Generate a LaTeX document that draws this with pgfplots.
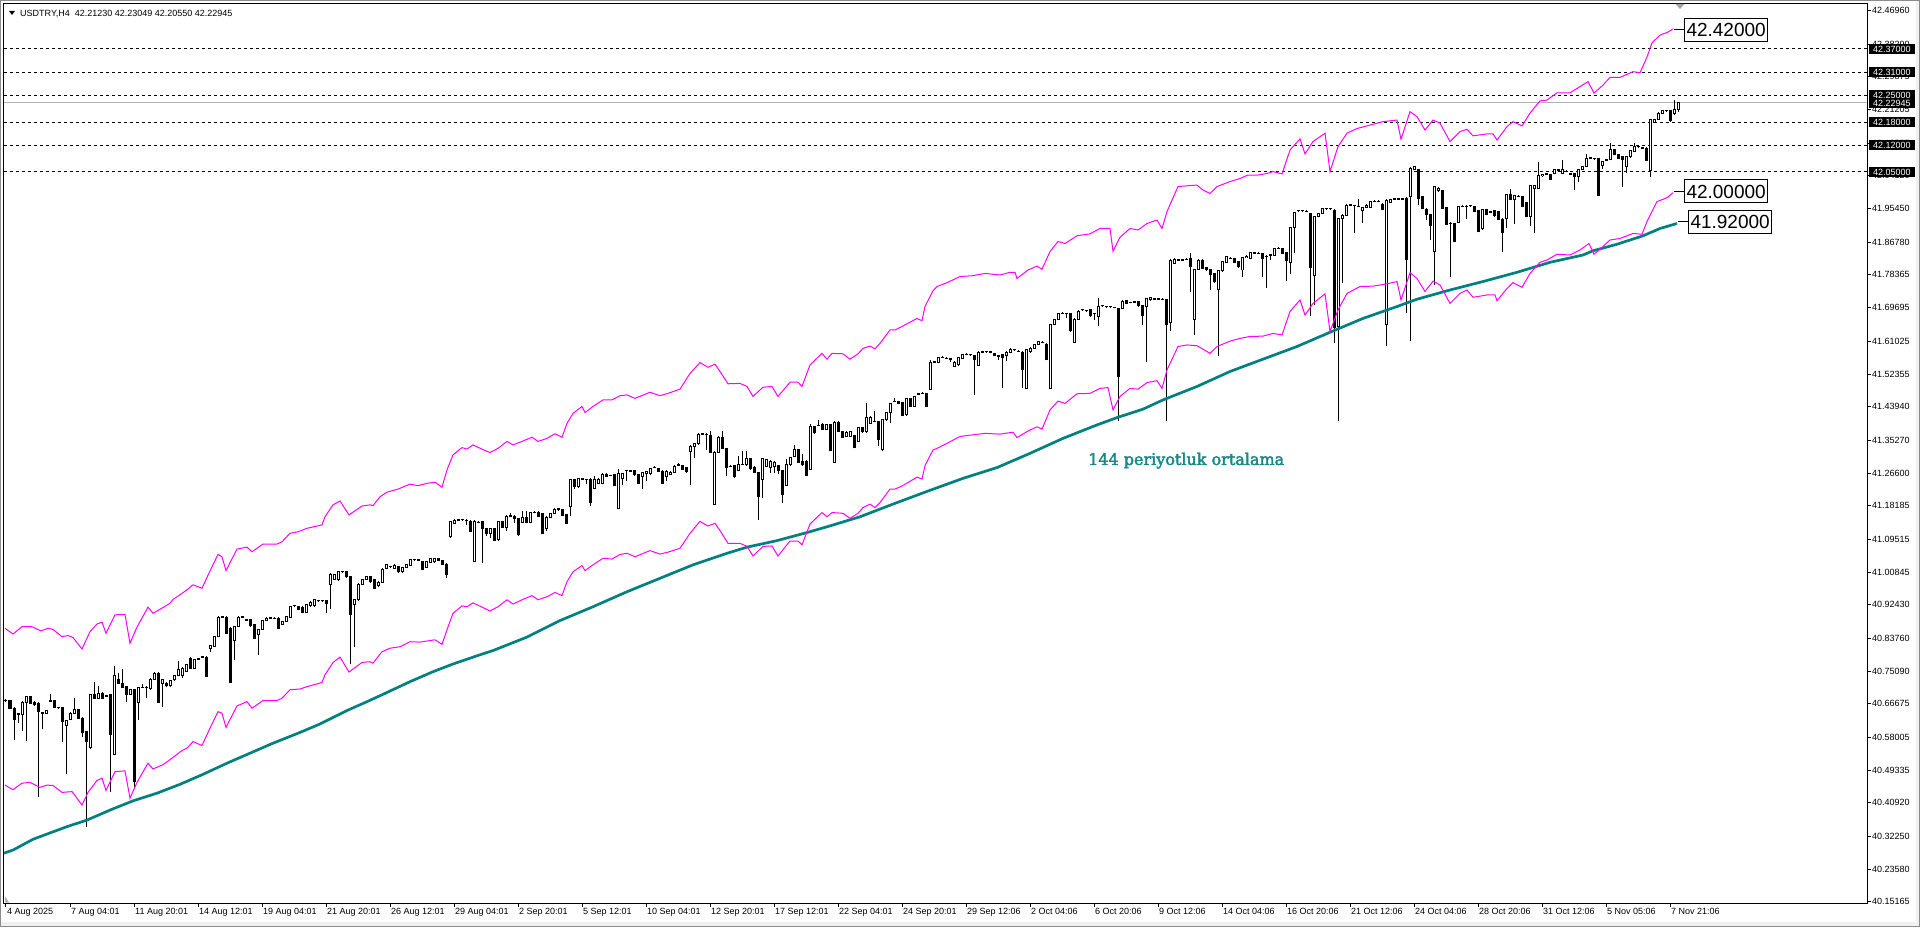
\documentclass[border=0pt]{standalone}
\usepackage{fontspec}
\setmainfont{Liberation Sans}
\newfontfamily\slabfont[FakeBold=2.5]{DejaVu Serif}
\usepackage{pgfplots}
\usepackage{pgfplotstable}
\pgfplotsset{compat=1.18}
\definecolor{mtteal}{RGB}{0,128,128}
\definecolor{mtmag}{RGB}{255,0,255}
\definecolor{lblteal}{RGB}{24,136,136}

\pgfplotstableread{
o h l c
40.676 40.678 40.671 40.674
40.674 40.676 40.652 40.655
40.655 40.657 40.573 40.626
40.639 40.642 40.616 40.640
40.639 40.673 40.596 40.671
40.671 40.688 40.570 40.685
40.685 40.687 40.666 40.668
40.671 40.673 40.661 40.664
40.668 40.670 40.423 40.646
40.643 40.645 40.600 40.642
40.642 40.650 40.640 40.648
40.673 40.692 40.671 40.675
40.674 40.676 40.655 40.658
40.657 40.659 40.653 40.656
40.657 40.659 40.567 40.620
40.610 40.624 40.483 40.622
40.626 40.644 40.624 40.642
40.642 40.681 40.640 40.651
40.651 40.653 40.627 40.629
40.629 40.631 40.581 40.592
40.594 40.596 40.345 40.568
40.553 40.692 40.550 40.690
40.690 40.724 40.679 40.681
40.681 40.713 40.679 40.694
40.694 40.696 40.679 40.681
40.686 40.689 40.684 40.687
40.690 40.692 40.438 40.587
40.535 40.765 40.532 40.739
40.729 40.746 40.718 40.720
40.720 40.756 40.708 40.710
40.711 40.713 40.672 40.691
40.691 40.705 40.689 40.703
40.703 40.705 40.451 40.464
40.671 40.711 40.625 40.709
40.709 40.717 40.707 40.710
40.710 40.712 40.681 40.709
40.705 40.733 40.703 40.731
40.731 40.748 40.729 40.746
40.746 40.748 40.669 40.671
40.720 40.731 40.658 40.729
40.720 40.722 40.711 40.713
40.713 40.728 40.711 40.726
40.729 40.742 40.727 40.740
40.740 40.778 40.738 40.757
40.741 40.761 40.734 40.759
40.750 40.771 40.748 40.769
40.785 40.787 40.757 40.759
40.759 40.784 40.757 40.782
40.783 40.786 40.781 40.784
40.788 40.792 40.786 40.789
40.788 40.790 40.735 40.737
40.811 40.819 40.800 40.817
40.815 40.843 40.813 40.841
40.841 40.894 40.839 40.892
40.892 40.895 40.890 40.893
40.892 40.894 40.848 40.850
40.863 40.865 40.721 40.723
40.830 40.869 40.781 40.867
40.867 40.894 40.865 40.892
40.892 40.896 40.890 40.893
40.886 40.888 40.881 40.883
40.885 40.887 40.867 40.869
40.872 40.874 40.835 40.837
40.846 40.862 40.794 40.860
40.860 40.885 40.858 40.883
40.883 40.891 40.881 40.889
40.889 40.892 40.887 40.890
40.889 40.891 40.886 40.888
40.889 40.891 40.861 40.863
40.874 40.882 40.872 40.880
40.880 40.895 40.878 40.893
40.892 40.922 40.890 40.920
40.921 40.924 40.919 40.922
40.920 40.922 40.911 40.913
40.918 40.920 40.903 40.905
40.905 40.926 40.903 40.924
40.921 40.933 40.919 40.931
40.921 40.939 40.919 40.937
40.934 40.937 40.932 40.935
40.935 40.937 40.932 40.934
40.934 40.936 40.902 40.928
40.978 41.006 40.913 41.004
40.990 41.005 40.988 41.003
40.989 41.012 40.987 41.010
41.010 41.013 41.008 41.011
41.010 41.012 40.995 40.997
40.997 40.999 40.769 40.899
40.924 40.939 40.814 40.937
40.937 40.980 40.935 40.978
40.978 40.992 40.976 40.990
40.990 40.999 40.988 40.997
40.997 40.999 40.982 40.984
40.989 40.991 40.965 40.967
40.973 40.985 40.971 40.983
40.983 41.019 40.981 41.017
41.019 41.030 41.017 41.028
41.023 41.026 41.021 41.024
41.018 41.029 41.016 41.027
41.023 41.025 41.008 41.010
41.010 41.023 41.008 41.021
41.021 41.030 41.019 41.028
41.027 41.043 41.025 41.041
41.041 41.044 41.039 41.042
41.041 41.043 41.038 41.040
41.036 41.038 41.014 41.016
41.022 41.038 41.020 41.036
41.034 41.047 41.032 41.045
41.036 41.047 41.034 41.045
41.045 41.047 41.037 41.039
41.039 41.041 41.028 41.030
41.030 41.032 40.995 41.004
41.101 41.142 41.099 41.140
41.136 41.146 41.134 41.144
41.144 41.147 41.142 41.145
41.145 41.148 41.143 41.146
41.144 41.146 41.132 41.143
41.142 41.144 41.113 41.115
41.037 41.144 41.035 41.142
41.138 41.141 41.136 41.139
41.140 41.142 41.034 41.123
41.123 41.125 41.102 41.110
41.110 41.125 41.097 41.123
41.123 41.125 41.089 41.091
41.093 41.143 41.089 41.141
41.141 41.143 41.123 41.125
41.125 41.157 41.115 41.155
41.155 41.162 41.153 41.156
41.155 41.157 41.136 41.148
41.148 41.150 41.104 41.106
41.138 41.167 41.136 41.152
41.152 41.167 41.136 41.138
41.138 41.166 41.136 41.164
41.164 41.167 41.162 41.165
41.164 41.168 41.153 41.155
41.162 41.164 41.108 41.110
41.123 41.154 41.115 41.152
41.152 41.164 41.150 41.162
41.162 41.175 41.160 41.173
41.174 41.176 41.169 41.171
41.171 41.173 41.154 41.156
41.158 41.160 41.134 41.136
41.180 41.251 41.155 41.249
41.249 41.251 41.225 41.232
41.232 41.255 41.227 41.253
41.251 41.254 41.249 41.252
41.250 41.252 41.239 41.249
41.251 41.253 41.180 41.190
41.227 41.259 41.225 41.251
41.239 41.253 41.237 41.251
41.239 41.266 41.237 41.264
41.264 41.266 41.256 41.258
41.260 41.263 41.258 41.261
41.262 41.264 41.232 41.234
41.174 41.277 41.172 41.266
41.253 41.268 41.236 41.266
41.273 41.276 41.247 41.274
41.273 41.275 41.270 41.272
41.273 41.275 41.260 41.262
41.262 41.264 41.238 41.240
41.258 41.270 41.225 41.268
41.265 41.273 41.247 41.271
41.265 41.281 41.263 41.279
41.281 41.285 41.279 41.282
41.279 41.281 41.269 41.271
41.272 41.274 41.238 41.240
41.258 41.274 41.247 41.272
41.264 41.271 41.262 41.269
41.269 41.287 41.267 41.285
41.287 41.292 41.285 41.288
41.287 41.289 41.275 41.277
41.281 41.283 41.266 41.271
41.324 41.339 41.236 41.337
41.337 41.345 41.305 41.343
41.343 41.370 41.341 41.368
41.368 41.371 41.366 41.369
41.368 41.370 41.327 41.367
41.364 41.375 41.319 41.321
41.186 41.323 41.184 41.321
41.321 41.362 41.319 41.360
41.360 41.377 41.329 41.331
41.331 41.333 41.260 41.282
41.284 41.287 41.282 41.285
41.286 41.288 41.253 41.258
41.273 41.310 41.271 41.290
41.290 41.323 41.287 41.289
41.288 41.325 41.286 41.305
41.305 41.307 41.276 41.278
41.282 41.284 41.266 41.268
41.268 41.270 41.145 41.206
41.249 41.307 41.201 41.305
41.284 41.303 41.282 41.301
41.282 41.300 41.266 41.298
41.285 41.297 41.268 41.295
41.287 41.289 41.264 41.273
41.273 41.275 41.190 41.212
41.234 41.303 41.232 41.288
41.288 41.309 41.286 41.307
41.310 41.340 41.308 41.327
41.327 41.329 41.293 41.295
41.298 41.316 41.286 41.288
41.298 41.300 41.258 41.260
41.277 41.394 41.275 41.388
41.388 41.390 41.369 41.371
41.390 41.406 41.388 41.391
41.394 41.396 41.379 41.381
41.381 41.394 41.379 41.392
41.392 41.394 41.323 41.325
41.295 41.401 41.293 41.399
41.399 41.401 41.373 41.375
41.375 41.377 41.358 41.360
41.362 41.375 41.360 41.373
41.362 41.377 41.360 41.375
41.364 41.366 41.331 41.333
41.349 41.387 41.347 41.385
41.385 41.387 41.372 41.374
41.374 41.448 41.372 41.412
41.396 41.414 41.394 41.412
41.401 41.427 41.399 41.402
41.401 41.403 41.337 41.355
41.327 41.407 41.325 41.405
41.405 41.426 41.403 41.424
41.424 41.450 41.396 41.448
41.453 41.461 41.451 41.454
41.453 41.455 41.446 41.448
41.450 41.452 41.414 41.416
41.418 41.463 41.416 41.461
41.461 41.463 41.438 41.440
41.441 41.468 41.439 41.466
41.472 41.475 41.470 41.473
41.474 41.477 41.472 41.475
41.474 41.476 41.438 41.440
41.485 41.561 41.483 41.555
41.555 41.558 41.553 41.556
41.555 41.569 41.553 41.567
41.567 41.570 41.565 41.568
41.566 41.568 41.563 41.565
41.564 41.566 41.556 41.563
41.545 41.557 41.543 41.555
41.548 41.569 41.546 41.567
41.565 41.576 41.563 41.574
41.575 41.578 41.573 41.576
41.575 41.577 41.572 41.574
41.572 41.574 41.471 41.561
41.546 41.583 41.544 41.581
41.581 41.584 41.579 41.582
41.582 41.585 41.580 41.583
41.582 41.584 41.579 41.581
41.578 41.580 41.570 41.572
41.572 41.574 41.562 41.571
41.574 41.576 41.487 41.568
41.572 41.583 41.559 41.581
41.581 41.591 41.579 41.589
41.587 41.590 41.585 41.588
41.584 41.586 41.581 41.583
41.581 41.583 41.487 41.535
41.487 41.590 41.485 41.588
41.582 41.594 41.580 41.592
41.591 41.603 41.589 41.601
41.601 41.610 41.599 41.608
41.606 41.609 41.604 41.607
41.602 41.604 41.560 41.562
41.487 41.655 41.485 41.653
41.653 41.668 41.651 41.666
41.666 41.684 41.664 41.682
41.682 41.685 41.680 41.683
41.682 41.684 41.669 41.681
41.682 41.684 41.635 41.637
41.607 41.669 41.605 41.667
41.667 41.690 41.665 41.688
41.691 41.694 41.689 41.692
41.690 41.692 41.687 41.689
41.691 41.693 41.674 41.676
41.682 41.684 41.666 41.681
41.675 41.721 41.649 41.699
41.702 41.705 41.700 41.703
41.700 41.702 41.697 41.699
41.699 41.702 41.697 41.700
41.698 41.700 41.695 41.697
41.695 41.697 41.402 41.517
41.695 41.716 41.693 41.714
41.715 41.717 41.706 41.708
41.711 41.713 41.708 41.710
41.711 41.714 41.709 41.712
41.712 41.714 41.700 41.702
41.702 41.704 41.653 41.676
41.699 41.723 41.556 41.721
41.717 41.726 41.715 41.724
41.719 41.722 41.717 41.720
41.720 41.722 41.717 41.719
41.719 41.721 41.716 41.718
41.717 41.719 41.402 41.652
41.659 41.823 41.637 41.821
41.812 41.825 41.810 41.823
41.821 41.824 41.819 41.822
41.822 41.824 41.819 41.821
41.822 41.826 41.820 41.823
41.825 41.838 41.738 41.803
41.665 41.798 41.627 41.796
41.796 41.823 41.794 41.821
41.821 41.823 41.797 41.799
41.801 41.803 41.793 41.795
41.796 41.798 41.744 41.782
41.786 41.788 41.762 41.764
41.744 41.795 41.572 41.793
41.793 41.818 41.791 41.816
41.814 41.832 41.812 41.830
41.825 41.828 41.823 41.826
41.825 41.827 41.812 41.814
41.816 41.818 41.801 41.803
41.795 41.829 41.776 41.827
41.827 41.833 41.825 41.831
41.825 41.843 41.823 41.841
41.841 41.843 41.836 41.838
41.838 41.841 41.836 41.839
41.838 41.840 41.777 41.825
41.830 41.833 41.747 41.831
41.834 41.837 41.821 41.835
41.834 41.853 41.832 41.851
41.851 41.854 41.849 41.852
41.850 41.852 41.836 41.838
41.840 41.842 41.767 41.819
41.814 41.908 41.784 41.906
41.906 41.947 41.840 41.945
41.949 41.952 41.947 41.950
41.950 41.952 41.947 41.949
41.948 41.950 41.945 41.947
41.942 41.944 41.676 41.801
41.780 41.936 41.705 41.934
41.934 41.944 41.932 41.942
41.942 41.956 41.940 41.954
41.954 41.957 41.952 41.955
41.955 41.957 41.952 41.954
41.951 41.953 41.604 41.646
41.647 41.930 41.402 41.928
41.928 41.940 41.760 41.938
41.938 41.966 41.936 41.964
41.964 41.967 41.962 41.965
41.963 41.965 41.892 41.962
41.961 41.979 41.958 41.960
41.949 41.960 41.918 41.958
41.958 41.966 41.956 41.964
41.958 41.975 41.956 41.973
41.973 41.976 41.971 41.974
41.974 41.976 41.971 41.973
41.966 41.968 41.951 41.953
41.653 41.979 41.598 41.977
41.970 41.981 41.968 41.979
41.979 41.982 41.977 41.980
41.980 41.982 41.977 41.979
41.979 41.982 41.977 41.980
41.982 41.984 41.683 41.823
41.985 42.062 41.609 42.060
42.056 42.065 42.054 42.063
42.056 42.058 41.965 41.982
41.985 41.987 41.954 41.956
41.953 41.955 41.924 41.939
41.939 41.941 41.874 41.910
41.843 42.014 41.755 42.012
42.001 42.010 41.999 42.008
42.001 42.003 41.954 41.956
41.958 41.960 41.912 41.914
41.917 41.919 41.778 41.916
41.915 41.917 41.867 41.869
41.919 41.962 41.917 41.960
41.960 41.963 41.958 41.961
41.961 41.963 41.927 41.960
41.962 41.965 41.960 41.963
41.960 41.962 41.945 41.947
41.950 41.952 41.893 41.895
41.902 41.954 41.900 41.952
41.952 41.954 41.937 41.939
41.945 41.948 41.943 41.946
41.949 41.951 41.934 41.936
41.947 41.949 41.924 41.926
41.927 41.929 41.841 41.893
41.930 41.994 41.904 41.992
41.992 42.005 41.976 41.978
41.978 41.991 41.914 41.989
41.986 41.989 41.984 41.987
41.986 41.988 41.958 41.960
41.971 41.973 41.932 41.934
41.934 42.016 41.910 42.014
42.008 42.016 41.891 42.014
42.008 42.077 42.006 42.040
42.040 42.046 42.038 42.044
42.044 42.047 42.042 42.045
42.044 42.046 42.029 42.031
42.047 42.059 42.045 42.057
42.056 42.058 42.053 42.055
42.047 42.082 42.045 42.056
42.051 42.054 42.049 42.052
42.045 42.047 42.042 42.044
42.045 42.047 42.004 42.037
42.037 42.058 42.025 42.056
42.057 42.066 42.055 42.064
42.064 42.096 42.062 42.086
42.086 42.089 42.084 42.087
42.085 42.087 42.082 42.084
42.084 42.086 41.987 41.989
42.066 42.079 42.058 42.077
42.081 42.084 42.079 42.082
42.082 42.125 42.080 42.109
42.108 42.110 42.093 42.095
42.095 42.097 42.084 42.086
42.089 42.091 42.011 42.082
42.063 42.091 42.047 42.089
42.089 42.108 42.087 42.106
42.103 42.125 42.101 42.115
42.115 42.118 42.113 42.116
42.113 42.115 42.110 42.112
42.112 42.114 42.078 42.080
42.054 42.188 42.038 42.186
42.180 42.189 42.178 42.187
42.187 42.205 42.185 42.203
42.203 42.211 42.201 42.209
42.209 42.212 42.207 42.210
42.209 42.211 42.181 42.183
42.201 42.236 42.199 42.213
42.2123 42.23049 42.2055 42.22945
}\candles

\begin{document}
\begin{tikzpicture}
\path[use as bounding box] (0,0) rectangle (1920pt,927pt);
\fill[white] (0,0) rectangle (1920pt,927pt);
\fill[black!6] (0,0) rectangle (1920pt,5pt);
\fill[black!6] (1916pt,0) rectangle (1920pt,927pt);
\draw[black!45, line width=1pt] (0.5pt,0.5pt) rectangle (1919.5pt,926.5pt);
\begin{axis}[
  at={(4pt,24pt)}, anchor=south west,
  width=1863pt, height=899pt, scale only axis,
  xmin=4, xmax=1867, ymin=40.14828, ymax=42.4870,
  axis line style={line width=1pt},
  tick align=outside, major tick length=4pt,
  every tick/.style={black, line width=1pt},
  xtick pos=bottom, ytick pos=right, yticklabel pos=right,
  xtick={6,70,134,198,262,326,390,454,518,582,646,710,774,838,902,966,1030,1094,1158,1222,1286,1350,1414,1478,1542,1606,1670},
  xticklabels={4 Aug 2025,7 Aug 04:01,11 Aug 20:01,14 Aug 12:01,19 Aug 04:01,21 Aug 20:01,26 Aug 12:01,29 Aug 04:01,2 Sep 20:01,5 Sep 12:01,10 Sep 04:01,12 Sep 20:01,17 Sep 12:01,22 Sep 04:01,24 Sep 20:01,29 Sep 12:06,2 Oct 04:06,6 Oct 20:06,9 Oct 12:06,14 Oct 04:06,16 Oct 20:06,21 Oct 12:06,24 Oct 04:06,28 Oct 20:06,31 Oct 12:06,5 Nov 05:06,7 Nov 21:06},
  ytick={40.15165,40.23580,40.32250,40.40920,40.49335,40.58005,40.66675,40.75090,40.83760,40.92430,41.00845,41.09515,41.18185,41.26600,41.35270,41.43940,41.52355,41.61025,41.69695,41.78365,41.86780,41.95450,42.04120,42.12535,42.21205,42.29875,42.38290,42.46960},
  yticklabels={40.15165,40.23580,40.32250,40.40920,40.49335,40.58005,40.66675,40.75090,40.83760,40.92430,41.00845,41.09515,41.18185,41.26600,41.35270,41.43940,41.52355,41.61025,41.69695,41.78365,41.86780,41.95450,42.04120,42.12535,42.21205,42.29875,42.38290,42.46960},
  ticklabel style={font=\fontsize{9}{10}\selectfont, text=black},
  xticklabel style={anchor=north west, inner sep=0pt, xshift=1pt, yshift=-1pt},
  yticklabel style={anchor=west, inner sep=0pt, xshift=1pt},
  clip=true,
]
% horizontal level lines
\addplot[black!30, line width=1pt] coordinates {(4,42.22945) (1867,42.22945)};
\addplot[black, line width=1pt, dash pattern=on 3pt off 3pt] coordinates {(4,42.37) (1867,42.37)};
\addplot[black, line width=1pt, dash pattern=on 3pt off 3pt] coordinates {(4,42.31) (1867,42.31)};
\addplot[black, line width=1pt, dash pattern=on 3pt off 3pt] coordinates {(4,42.25) (1867,42.25)};
\addplot[black, line width=1pt, dash pattern=on 3pt off 3pt] coordinates {(4,42.18) (1867,42.18)};
\addplot[black, line width=1pt, dash pattern=on 3pt off 3pt] coordinates {(4,42.12) (1867,42.12)};
\addplot[black, line width=1pt, dash pattern=on 3pt off 3pt] coordinates {(4,42.05) (1867,42.05)};

% candles: wicks
\addplot[black, line width=1pt, quiver={u=0, v=\thisrow{h}-\thisrow{l}}]
  table[x expr=6+4*\coordindex, y=l] {\candles};
% bodies (black outline / fill)
\addplot[black, line width=3pt, quiver={u=0, v=abs(\thisrow{c}-\thisrow{o})+0.0026}]
  table[x expr=6+4*\coordindex, y expr={min(\thisrow{o},\thisrow{c})-0.0013}] {\candles};
% white interior of rising candles
\addplot[white, line width=1pt, quiver={u=0, v=\thisrow{c}-\thisrow{o}-0.0026},
  x filter/.expression={(\thisrow{c}-\thisrow{o}>0.003) ? x : nan}, unbounded coords=discard]
  table[x expr=6+4*\coordindex, y expr=\thisrow{o}+0.0013] {\candles};

% 144-period moving average
\addplot[mtteal, line width=2.7pt] coordinates {
(4,40.278) (13,40.286) (33,40.314) (67,40.347) (87,40.364) (110,40.390) (133,40.414) (157,40.434) (180,40.457) (203,40.483) (227,40.512) (250,40.538) (273,40.564) (300,40.592) (320,40.614) (347,40.649) (367,40.672) (387,40.696) (410,40.724) (433,40.750) (453,40.770) (480,40.794) (493,40.805) (527,40.840) (560,40.883) (593,40.919) (627,40.958) (660,40.993) (693,41.028) (727,41.058) (747,41.074) (777,41.091) (807,41.112) (827,41.127) (860,41.153) (893,41.186) (927,41.219) (963,41.253) (997,41.281) (1030,41.318) (1063,41.357) (1097,41.392) (1117,41.411) (1143,41.433) (1163,41.457) (1197,41.492) (1230,41.531) (1263,41.563) (1297,41.596) (1330,41.633) (1363,41.669) (1397,41.700) (1417,41.719) (1450,41.743) (1483,41.765) (1517,41.789) (1550,41.815) (1583,41.834) (1593,41.845) (1617,41.862) (1643,41.884) (1660,41.903) (1677,41.916)};

% upper envelope
\addplot[mtmag, line width=1pt] coordinates {
(5,40.863) (13,40.848) (22,40.867) (32,40.867) (41,40.856) (48,40.863) (53,40.860) (62,40.841) (68,40.844) (73,40.839) (82,40.809) (90,40.854) (97,40.874) (102,40.879) (106,40.850) (115,40.898) (125,40.899) (130,40.824) (137,40.866) (148,40.918) (153,40.902) (163,40.917) (170,40.928) (173,40.938) (180,40.950) (187,40.963) (193,40.976) (202,40.967) (210,41.012) (218,41.055) (222,41.049) (226,41.013) (237,41.069) (247,41.074) (252,41.062) (263,41.082) (277,41.082) (282,41.088) (290,41.110) (298,41.114) (307,41.123) (317,41.129) (322,41.132) (325,41.153) (333,41.184) (340,41.194) (349,41.158) (362,41.181) (370,41.184) (373,41.182) (380,41.205) (387,41.217) (398,41.225) (410,41.238) (418,41.234) (427,41.240) (435,41.243) (442,41.230) (447,41.275) (453,41.314) (462,41.333) (467,41.329) (473,41.340)
(482,41.329) (490,41.320) (498,41.331) (507,41.349) (513,41.340) (522,41.349) (532,41.360) (538,41.349) (547,41.357) (555,41.369) (562,41.360) (567,41.396) (573,41.422) (582,41.440) (585,41.424) (593,41.440) (603,41.457) (612,41.457) (620,41.468) (627,41.470) (635,41.461) (650,41.477) (660,41.468) (668,41.474) (680,41.485) (690,41.526) (700,41.554) (708,41.542) (715,41.550) (720,41.531) (728,41.499) (740,41.500) (747,41.492) (753,41.466) (763,41.490) (772,41.492) (778,41.466) (790,41.503) (798,41.503) (802,41.492) (810,41.548) (822,41.578) (827,41.563) (832,41.578) (843,41.577) (850,41.563) (858,41.577) (863,41.591) (870,41.597) (875,41.590) (880,41.604) (890,41.639) (895,41.639) (902,41.648) (917,41.669) (922,41.663) (925,41.700) (933,41.741)
(937,41.752) (947,41.762) (960,41.778) (972,41.780) (985,41.786) (1000,41.782) (1010,41.789) (1015,41.789) (1017,41.773) (1028,41.795) (1037,41.805) (1042,41.797) (1050,41.843) (1058,41.869) (1065,41.864) (1077,41.884) (1090,41.889) (1100,41.903) (1110,41.903) (1113,41.844) (1120,41.880) (1130,41.903) (1138,41.899) (1147,41.916) (1157,41.925) (1162,41.903) (1167,41.947) (1178,42.012) (1187,42.014) (1197,42.016) (1203,42.003) (1210,41.994) (1217,42.012) (1230,42.025) (1240,42.033) (1248,42.042) (1258,42.042) (1267,42.046) (1273,42.051) (1282,42.045) (1290,42.107) (1300,42.136) (1305,42.097) (1313,42.129) (1325,42.151) (1330,42.051) (1338,42.116) (1347,42.151) (1357,42.163) (1370,42.172) (1383,42.181) (1397,42.185) (1401,42.135)
(1410,42.207) (1417,42.194) (1425,42.159) (1433,42.185) (1440,42.177) (1450,42.129) (1460,42.155) (1467,42.161) (1473,42.144) (1487,42.149) (1493,42.149) (1497,42.133) (1507,42.168) (1513,42.181) (1522,42.170) (1530,42.203) (1540,42.235) (1547,42.237) (1557,42.256) (1570,42.256) (1580,42.272) (1588,42.285) (1594,42.255) (1603,42.276) (1610,42.296) (1620,42.296) (1633,42.311) (1640,42.308) (1647,42.349) (1652,42.386) (1660,42.406) (1668,42.414) (1673,42.422)};

% lower envelope
\addplot[mtmag, line width=1pt] coordinates {
(5,40.455) (13,40.443) (22,40.460) (30,40.462) (40,40.449) (47,40.455) (53,40.454) (62,40.436) (72,40.438) (77,40.421) (82,40.403) (88,40.436) (97,40.467) (102,40.473) (106,40.441) (115,40.490) (125,40.492) (130,40.421) (137,40.462) (148,40.512) (153,40.497) (163,40.508) (172,40.525) (182,40.545) (187,40.551) (193,40.568) (202,40.558) (210,40.603) (218,40.646) (222,40.642) (226,40.605) (237,40.661) (247,40.672) (252,40.655) (263,40.675) (277,40.675) (282,40.681) (290,40.703) (300,40.705) (307,40.711) (322,40.722) (325,40.742) (333,40.774) (340,40.788) (349,40.749) (362,40.774) (370,40.776) (373,40.772) (382,40.802) (390,40.811) (400,40.815) (410,40.828) (420,40.827) (435,40.833) (442,40.821) (447,40.859) (453,40.902) (462,40.921) (467,40.919) (473,40.929)
(482,40.918) (490,40.908) (498,40.919) (507,40.937) (513,40.926) (522,40.937) (532,40.948) (538,40.937) (547,40.945) (555,40.956) (562,40.948) (567,40.984) (573,41.010) (582,41.026) (585,41.013) (593,41.028) (603,41.045) (612,41.043) (620,41.055) (627,41.058) (635,41.049) (650,41.065) (660,41.056) (668,41.061) (680,41.071) (690,41.110) (700,41.141) (708,41.129) (715,41.136) (720,41.117) (728,41.084) (740,41.084) (747,41.076) (753,41.051) (763,41.076) (772,41.077) (778,41.051) (790,41.090) (798,41.090) (802,41.080) (810,41.134) (822,41.164) (827,41.153) (832,41.164) (843,41.162) (850,41.149) (858,41.162) (863,41.177) (870,41.186) (875,41.177) (880,41.190) (890,41.225) (895,41.225) (902,41.233) (917,41.256) (922,41.251) (925,41.286) (933,41.327)
(937,41.331) (947,41.344) (960,41.362) (972,41.366) (985,41.370) (1000,41.368) (1013,41.373) (1017,41.359) (1028,41.376) (1037,41.387) (1042,41.381) (1050,41.431) (1058,41.454) (1065,41.448) (1077,41.473) (1090,41.474) (1100,41.487) (1108,41.489) (1113,41.431) (1120,41.466) (1130,41.487) (1138,41.485) (1147,41.502) (1157,41.507) (1162,41.487) (1167,41.535) (1178,41.596) (1187,41.600) (1197,41.598) (1203,41.589) (1210,41.578) (1217,41.596) (1230,41.610) (1240,41.617) (1250,41.622) (1263,41.623) (1273,41.630) (1282,41.626) (1290,41.687) (1300,41.717) (1305,41.678) (1313,41.708) (1325,41.733) (1330,41.635) (1338,41.691) (1347,41.734) (1360,41.752) (1373,41.753) (1387,41.759) (1397,41.765) (1401,41.717)
(1410,41.788) (1417,41.773) (1425,41.739) (1433,41.766) (1440,41.756) (1450,41.708) (1460,41.734) (1467,41.743) (1473,41.724) (1487,41.730) (1495,41.730) (1497,41.715) (1507,41.747) (1513,41.762) (1522,41.750) (1530,41.786) (1540,41.815) (1547,41.821) (1557,41.836) (1570,41.834) (1580,41.847) (1589,41.864) (1594,41.836) (1603,41.856) (1610,41.873) (1620,41.877) (1633,41.890) (1642,41.888) (1647,41.921) (1657,41.973) (1667,41.983) (1673,41.996)};

% connectors to value labels
\draw[black, line width=1pt] (axis cs:1674,42.42) -- (axis cs:1684,42.42);
\draw[black, line width=1pt] (axis cs:1674,42.00) -- (axis cs:1684,42.00);
\draw[black, line width=1pt] (axis cs:1678,41.92) -- (axis cs:1688,41.92);

\coordinate (B1) at (axis cs:1684,42.42);
\coordinate (B2) at (axis cs:1684,42.00);
\coordinate (B3) at (axis cs:1688,41.92);
\coordinate (TXT) at (axis cs:1088,41.288);
\coordinate (L1) at (axis cs:1867,42.37);
\coordinate (L2) at (axis cs:1867,42.31);
\coordinate (L3) at (axis cs:1867,42.25);
\coordinate (L4) at (axis cs:1867,42.22945);
\coordinate (L5) at (axis cs:1867,42.18);
\coordinate (L6) at (axis cs:1867,42.12);
\coordinate (L7) at (axis cs:1867,42.05);
\coordinate (SH) at (axis cs:1680,42.4870);
\end{axis}

% value boxes inside chart
\begin{scope}[every node/.style={draw=black, line width=1pt, fill=white, font=\fontsize{19}{20}\selectfont, inner xsep=2pt, inner ysep=4.5pt, text height=13.7pt, text depth=0pt, anchor=west}]
\node at (B1) {42.42000};
\node at (B2) {42.00000};
\node at (B3) {41.92000};
\end{scope}

% level tags on the price scale
\begin{scope}[every node/.style={fill=black, text=white, font=\fontsize{9}{10}\selectfont, inner xsep=4pt, inner ysep=1.8pt, text height=6.6pt, text depth=0pt, anchor=west}]
\node at ([xshift=2pt]L1) {42.37000};
\node at ([xshift=2pt]L2) {42.31000};
\node at ([xshift=2pt]L3) {42.25000};
\node at ([xshift=2pt]L4) {42.22945};
\node at ([xshift=2pt]L5) {42.18000};
\node at ([xshift=2pt]L6) {42.12000};
\node at ([xshift=2pt]L7) {42.05000};
\end{scope}

% MA caption
\node[anchor=base west, text=lblteal, font=\slabfont\fontsize{16}{18}\selectfont, inner sep=0pt] at (TXT) {144 periyotluk ortalama};

% chart shift marker and corner marker
\fill[black!35] ([xshift=-4.5pt]SH) -- ([xshift=4.5pt]SH) -- ([yshift=-5pt]SH) -- cycle;
\fill[black!30] (5pt,24.5pt) -- (9pt,24.5pt) -- (5pt,31pt) -- cycle;

% title
\fill[black] (9pt,916pt) -- (15pt,916pt) -- (12pt,912pt) -- cycle;
\node[anchor=base west, inner sep=0pt, font=\fontsize{9}{10}\selectfont] at (20pt,910.3pt) {USDTRY,H4\ \ 42.21230 42.23049 42.20550 42.22945};
\end{tikzpicture}
\end{document}
